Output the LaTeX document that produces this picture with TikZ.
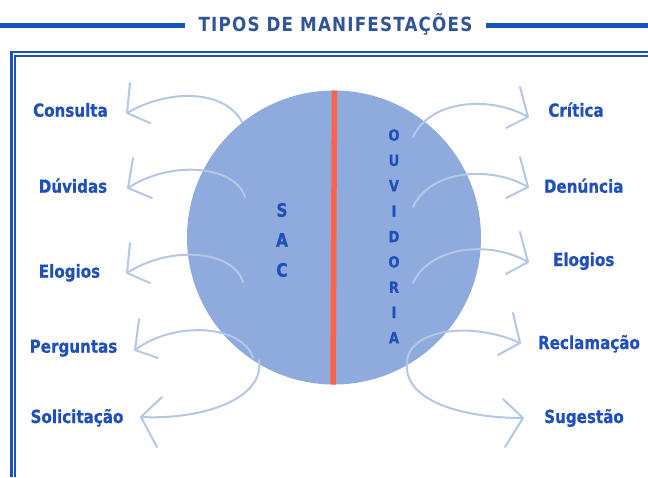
\documentclass[tikz,border=0pt]{standalone}
\usepackage{fontspec}
\newfontfamily\lblfont[FakeStretch=0.84,FakeBold=0.6]{DejaVu Sans}
\newfontfamily\ttlfont[FakeStretch=0.86,LetterSpace=6]{DejaVu Sans}
\definecolor{lineblue}{HTML}{1A52BD}
\definecolor{titleblue}{HTML}{2F5597}
\definecolor{txtblue}{HTML}{1F4FB8}
\definecolor{circfill}{HTML}{8FAADC}
\definecolor{arrowblue}{HTML}{B4C7E7}
\definecolor{redline}{HTML}{FF6347}
\tikzset{
  lbl/.style={anchor=base, inner sep=0pt, text=txtblue, font=\lblfont\bfseries\fontsize{18}{18}\selectfont},
  sacl/.style={anchor=base, inner sep=0pt, text=txtblue, font=\lblfont\bfseries\fontsize{18.5}{18.5}\selectfont},
  ouvl/.style={anchor=base, inner sep=0pt, text=txtblue, font=\lblfont\bfseries\fontsize{15.5}{15.5}\selectfont},
  arr/.style={draw=arrowblue, line width=2pt, line cap=round, line join=round},
  frameline/.style={draw=lineblue},
}
\begin{document}
\begin{tikzpicture}[x=1pt,y=-1pt]
\useasboundingbox (0,0) rectangle (648,477);
% title
\node[anchor=base, inner sep=0pt, text=titleblue, font=\ttlfont\bfseries\fontsize{19.5}{19.5}\selectfont] (title) at (335.5,31) {TIPOS DE MANIFESTAÇÕES};
\coordinate (tl0) at (0,25.5);
\coordinate (tl1) at (185,25.5);
\coordinate (tr0) at (486,25.5);
\coordinate (tr1) at (648,25.5);
\draw[lineblue, line width=4.5pt] (tl0) -- (tl1);
\draw[lineblue, line width=4.5pt] (tr0) -- (tr1);
% frame
\coordinate (fo1) at (11.2,477);
\coordinate (fo2) at (11.2,52);
\coordinate (fo3) at (648,52);
\coordinate (fi1) at (14.8,477);
\coordinate (fi2) at (14.8,55.8);
\coordinate (fi3) at (648,55.8);
\draw[frameline, line width=2.6pt] (fo1) -- (fo2) -- (fo3);
\draw[frameline, line width=1.8pt] (fi1) -- (fi2) -- (fi3);
% circle
\node[circle, fill=circfill, minimum size=294pt, inner sep=0pt] (circ) at (334,237.5) {};
% red divider
\coordinate (rtop) at (334.5,90.5);
\coordinate (rbot) at (333,384.5);
\draw[redline, line width=5.5pt] (rtop) -- (rbot);
% SAC
\node[sacl] (s1) at (282,216.7) {S};
\node[sacl] (s2) at (282,246.7) {A};
\node[sacl] (s3) at (282,276.7) {C};
% OUVIDORIA
\foreach \ch/\yy [count=\i] in {O/140.7,U/166,V/191.3,I/216.7,D/242.2,O/267.5,R/292.8,I/318,A/343.3}{
  \node[ouvl] (o\i) at (394,\yy) {\ch};
}
% left labels
\node[lbl] (consulta) at (70.4,116.7) {Consulta};
\node[lbl] (duvidas) at (73,192.7) {Dúvidas};
\node[lbl] (elogiosl) at (69.5,277.7) {Elogios};
\node[lbl] (perguntas) at (73.5,352.7) {Perguntas};
\node[lbl] (solicitacao) at (77,423) {Solicitação};
% right labels
\node[lbl] (critica) at (576,116.7) {Crítica};
\node[lbl] (denuncia) at (583.7,192.7) {Denúncia};
\node[lbl] (elogiosr) at (583.7,266) {Elogios};
\node[lbl] (reclamacao) at (589,349) {Reclamação};
\node[lbl] (sugestao) at (584,423) {Sugestão};
% left arrows
\coordinate (a1s) at (242,122); \coordinate (a1t) at (127,113);
\coordinate (a1u) at (130,83); \coordinate (a1l) at (150,123);
\draw[arr] (a1s) .. controls (225,90) and (170,88) .. (a1t);
\draw[arr] (a1u) -- (a1t) -- (a1l);
\coordinate (a2s) at (245,197); \coordinate (a2t) at (128,188);
\coordinate (a2u) at (133,158); \coordinate (a2l) at (152,198);
\draw[arr] (a2s) .. controls (235,165) and (170,160) .. (a2t);
\draw[arr] (a2u) -- (a2t) -- (a2l);
\coordinate (a3s) at (243,282); \coordinate (a3t) at (127,273);
\coordinate (a3u) at (130,243); \coordinate (a3l) at (150,283);
\draw[arr] (a3s) .. controls (233,250) and (170,245) .. (a3t);
\draw[arr] (a3u) -- (a3t) -- (a3l);
\coordinate (a4s) at (253,358); \coordinate (a4t) at (135,350);
\coordinate (a4u) at (139,319); \coordinate (a4l) at (158,358);
\draw[arr] (a4s) .. controls (243,325) and (175,320) .. (a4t);
\draw[arr] (a4u) -- (a4t) -- (a4l);
\coordinate (a5s) at (259,360); \coordinate (a5t) at (141,417);
\coordinate (a5u) at (162,397); \coordinate (a5l) at (157,447);
\draw[arr] (a5s) .. controls (265,400) and (200,420) .. (a5t);
\draw[arr] (a5u) -- (a5t) -- (a5l);
% right arrows
\coordinate (b1s) at (413,137); \coordinate (b1t) at (528,117);
\coordinate (b1u) at (520,87); \coordinate (b1l) at (506,128);
\draw[arr] (b1s) .. controls (430,100) and (490,95) .. (b1t);
\draw[arr] (b1u) -- (b1t) -- (b1l);
\coordinate (b2s) at (413,207); \coordinate (b2t) at (528,187);
\coordinate (b2u) at (520,157); \coordinate (b2l) at (506,198);
\draw[arr] (b2s) .. controls (430,170) and (490,165) .. (b2t);
\draw[arr] (b2u) -- (b2t) -- (b2l);
\coordinate (b3s) at (413,283); \coordinate (b3t) at (528,262);
\coordinate (b3u) at (520,232); \coordinate (b3l) at (506,274);
\draw[arr] (b3s) .. controls (430,246) and (490,240) .. (b3t);
\draw[arr] (b3u) -- (b3t) -- (b3l);
\coordinate (b4s) at (407,365); \coordinate (b4t) at (520,343);
\coordinate (b4u) at (513,313); \coordinate (b4l) at (498,355);
\draw[arr] (b4s) .. controls (405,330) and (470,320) .. (b4t);
\draw[arr] (b4u) -- (b4t) -- (b4l);
\coordinate (b5t) at (523,418);
\coordinate (b5u) at (503,399); \coordinate (b5l) at (505,447);
\draw[arr] (b4s) .. controls (405,400) and (460,418) .. (b5t);
\draw[arr] (b5u) -- (b5t) -- (b5l);
\end{tikzpicture}
\end{document}
